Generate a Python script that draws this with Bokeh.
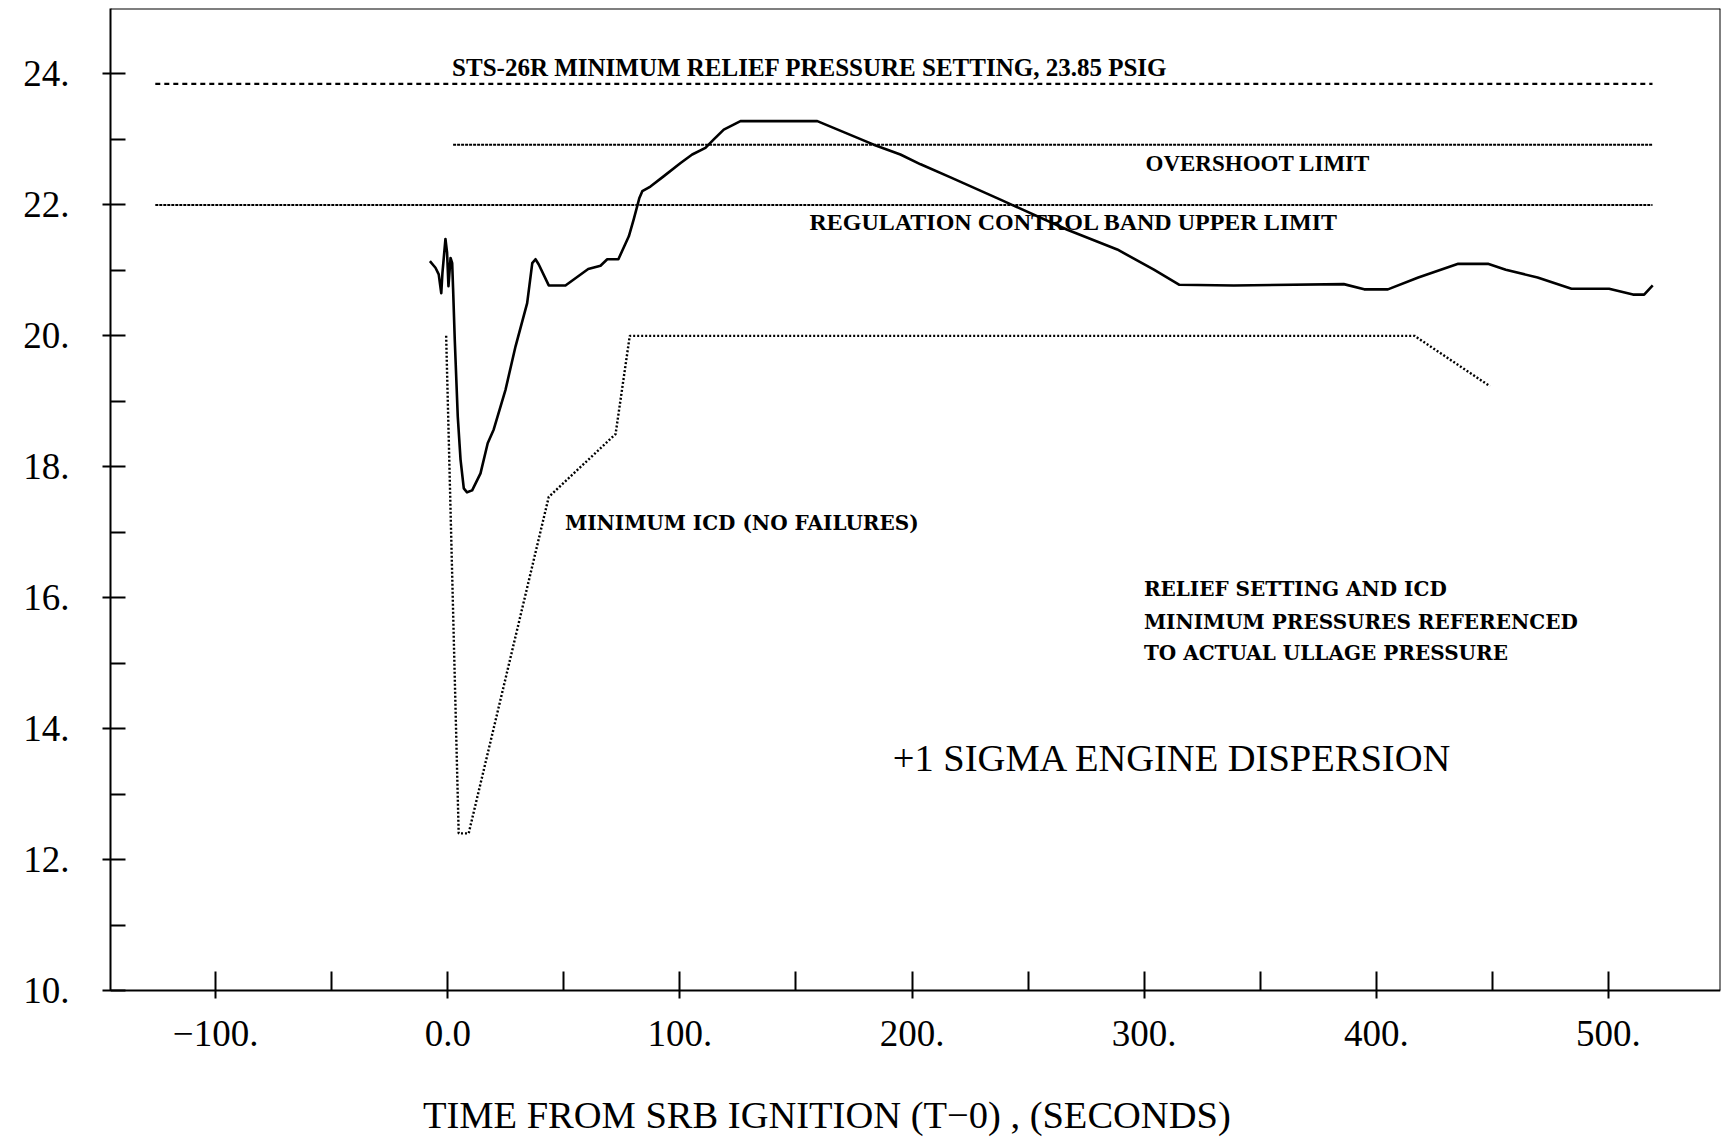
from bokeh.plotting import figure
from bokeh.models import Range1d, FixedTicker, Label, LinearAxis
from bokeh.embed import file_html
from bokeh.resources import INLINE

# ---------------- data ----------------
time_s = [-7.7, -5.3, -3.9, -2.8, -2.3, -1.0, -0.3, 0.3, 0.8, 1.2, 1.9, 2.3, 3.0,
          4.3, 5.5, 6.9, 8.3, 10.5, 14.1, 17.2, 19.8, 24.9, 29.2, 34.2, 36.4, 37.8,
          39.2, 43.5, 50.7, 60.5, 65.8, 68.7, 73.5, 78.0, 80.1, 82.5, 83.8, 87.3,
          93.1, 100.3, 105.3, 111.0, 114.6, 118.9, 126.1, 159.2, 183.5, 195.0, 203.7,
          216.6, 238.1, 266.9, 288.4, 304.2, 315.2, 338.6, 386.0, 394.8, 405.0,
          418.1, 435.3, 448.1, 455.8, 469.5, 484.1, 500.3, 510.6, 515.4, 519.1]
pressure = [21.14, 21.04, 20.94, 20.65, 20.96, 21.48, 21.27, 20.76, 21.0, 21.19, 21.11,
            20.71, 19.95, 18.77, 18.11, 17.67, 17.61, 17.64, 17.9, 18.36, 18.57, 19.18,
            19.84, 20.5, 21.11, 21.17, 21.09, 20.77, 20.77, 21.02, 21.07, 21.17, 21.17,
            21.52, 21.78, 22.1, 22.21, 22.28, 22.44, 22.64, 22.77, 22.87, 23.0, 23.15,
            23.28, 23.28, 22.92, 22.77, 22.62, 22.42, 22.08, 21.62, 21.32, 21.01, 20.78,
            20.77, 20.79, 20.71, 20.71, 20.89, 21.1, 21.1, 21.01, 20.89, 20.72, 20.72,
            20.63, 20.63, 20.77]

icd_time = [-0.7, 4.7, 9.0, 43.5, 72.3, 78.4, 416.5, 449.0]
icd_pressure = [20.0, 12.4, 12.4, 17.54, 18.5, 20.0, 20.0, 19.23]

relief_time = [-126.0, 519.0]
relief_pressure = [23.85, 23.85]
overshoot_time = [2.3, 519.0]
overshoot_pressure = [22.92, 22.92]
regulation_time = [-126.0, 519.0]
regulation_pressure = [22.0, 22.0]

x_major = [-100, 0, 100, 200, 300, 400, 500]
x_minor = [-50, 50, 150, 250, 350, 450]
x_labels = ["\u2212100.", "0.0", "100.", "200.", "300.", "400.", "500."]
y_major = [10, 12, 14, 16, 18, 20, 22, 24]
y_minor = [11, 13, 15, 17, 19, 21, 23]
y_labels = ["10.", "12.", "14.", "16.", "18.", "20.", "22.", "24."]

x_title = "TIME FROM SRB IGNITION (T\u22120) , (SECONDS)"

X_MIN, X_MAX = -145.3, 548.3
Y_BOT, Y_AXIS, Y_TOP = 7.694, 10.0, 25.0

# ---------------- figure ----------------
p = figure(width=1723, height=1141, output_backend="svg", toolbar_location=None,
           x_range=Range1d(X_MIN, X_MAX), y_range=Range1d(Y_BOT, Y_TOP),
           min_border_left=110, min_border_right=3, min_border_top=8,
           min_border_bottom=0)
p.xgrid.visible = False
p.ygrid.visible = False
p.outline_line_color = None
p.background_fill_color = "white"
p.border_fill_color = "white"

tick_font = "Liberation Serif"

# bottom axis sits at y = 10 inside the frame, so the axis title can go below it
xa = p.xaxis[0]
xa.fixed_location = Y_AXIS
xa.ticker = FixedTicker(ticks=x_major, minor_ticks=x_minor)
xa.major_label_overrides = {t: l for t, l in zip(x_major, x_labels)}
xa.axis_line_width = 2
xa.major_tick_in = 19
xa.major_tick_out = 8
xa.minor_tick_in = 19
xa.minor_tick_out = 0
xa.major_tick_line_width = 2
xa.minor_tick_line_width = 2
xa.major_tick_line_color = "black"
xa.minor_tick_line_color = "black"
xa.axis_line_color = "black"
xa.major_label_text_font = tick_font
xa.major_label_text_font_size = "37px"
xa.major_label_text_color = "black"
xa.major_label_standoff = 22

ya = p.yaxis[0]
ya.bounds = (Y_AXIS, Y_TOP)
ya.ticker = FixedTicker(ticks=y_major, minor_ticks=y_minor)
ya.major_label_overrides = {t: l for t, l in zip(y_major, y_labels)}
ya.axis_line_width = 2
ya.major_tick_in = 15
ya.major_tick_out = 8
ya.minor_tick_in = 15
ya.minor_tick_out = 0
ya.major_tick_line_width = 2
ya.minor_tick_line_width = 2
ya.major_tick_line_color = "black"
ya.minor_tick_line_color = "black"
ya.axis_line_color = "black"
ya.major_label_text_font = tick_font
ya.major_label_text_font_size = "37px"
ya.major_label_text_color = "black"
ya.major_label_standoff = 33

# top and right frame edges as bare axes
def bare_axis(**kw):
    return LinearAxis(ticker=FixedTicker(ticks=[]), major_tick_in=0, major_tick_out=0,
                      minor_tick_in=0, minor_tick_out=0, major_label_standoff=0,
                      axis_line_width=2, axis_line_color="black", **kw)

p.add_layout(bare_axis(fixed_location=Y_TOP), "above")
p.add_layout(bare_axis(fixed_location=X_MAX, bounds=(Y_AXIS, Y_TOP)), "right")

# limit lines
p.line(relief_time, relief_pressure, line_color="black", line_width=2.2, line_dash="5 4")
p.line(overshoot_time, overshoot_pressure, line_color="black", line_width=2, line_dash="3 1")
p.line(regulation_time, regulation_pressure, line_color="black", line_width=2, line_dash="3 1")

# minimum ICD
p.line(icd_time, icd_pressure, line_color="black", line_width=2.4, line_dash="2 2")

# pressure trace
p.line(time_s, pressure, line_color="black", line_width=2.6, line_join="round")

# ---------------- annotations ----------------
def lab(x, y, text, font, size, style="normal", align="left"):
    p.add_layout(Label(x=x, y=y, text=text, text_font=font, text_font_size=size,
                       text_font_style=style, text_align=align,
                       text_baseline="middle", text_color="black"))

lab(1.85, 24.1, "STS-26R MINIMUM RELIEF PRESSURE SETTING, 23.85 PSIG",
    "Liberation Serif", "25px", "bold")
lab(300.6, 22.64, "OVERSHOOT LIMIT", "Liberation Serif", "23px", "bold")
lab(155.8, 21.74, "REGULATION CONTROL BAND UPPER LIMIT", "Liberation Serif", "24px", "bold")
lab(50.5, 17.14, "MINIMUM ICD (NO FAILURES)", "DejaVu Serif", "20px", "bold")
lab(299.9, 16.13, "RELIEF SETTING AND ICD", "DejaVu Serif", "20px", "bold")
lab(299.9, 15.63, "MINIMUM PRESSURES REFERENCED", "DejaVu Serif", "20px", "bold")
lab(299.9, 15.15, "TO ACTUAL ULLAGE PRESSURE", "DejaVu Serif", "20px", "bold")
lab(191.7, 13.55, "+1 SIGMA ENGINE DISPERSION", "Liberation Serif", "38.5px")
lab(163.3, 8.1, x_title, "Liberation Serif", "38.5px", align="center")

open("out.html", "w").write(file_html(p, INLINE))
